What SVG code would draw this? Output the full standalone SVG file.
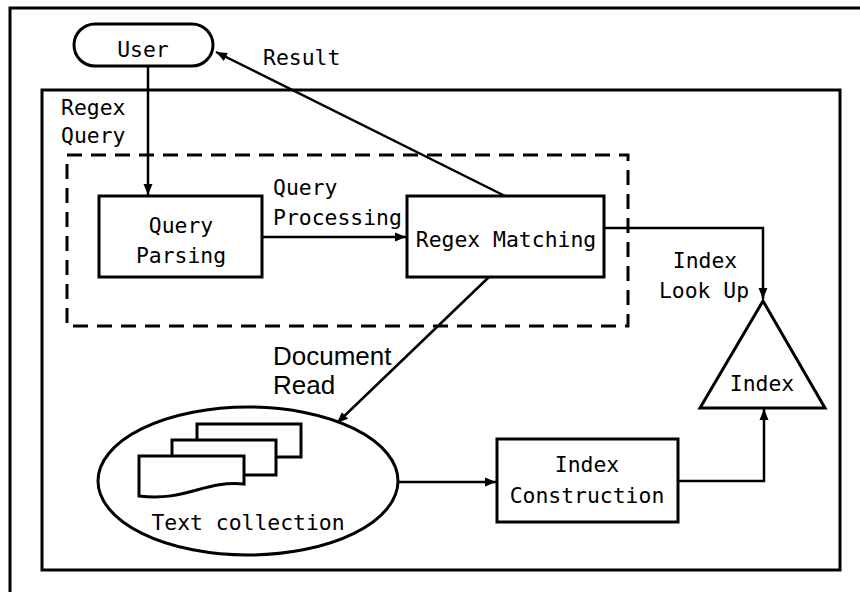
<svg xmlns="http://www.w3.org/2000/svg" width="860" height="592" viewBox="0 0 860 592">
<defs>
<marker id="ah" markerUnits="userSpaceOnUse" markerWidth="12" markerHeight="10" refX="11" refY="5" orient="auto">
<path d="M0,0.5 L11,5 L0,9.5 Z" fill="#000"/>
</marker>
<style>
.box{fill:#fff;stroke:#000;stroke-width:3}
.frame{fill:none;stroke:#000;stroke-width:3}
.dash{fill:none;stroke:#000;stroke-width:3;stroke-dasharray:15 9}
.con{fill:none;stroke:#000;stroke-width:2.5}
.arr{marker-end:url(#ah)}
.t{font-family:"DejaVu Sans Mono","Liberation Mono",monospace;font-size:21.4px;fill:#000}
.m{text-anchor:middle}
.s{font-family:"Liberation Sans",Arial,sans-serif;font-size:26px;fill:#000}
</style>
</defs>
<rect width="860" height="592" fill="#fff"/>
<rect class="frame" x="10" y="8" width="900" height="700"/>
<g id="system">
<rect class="frame" x="42" y="90" width="798" height="480"/>
<text class="t" x="61" y="115">Regex</text>
<text class="t" x="61" y="143">Query</text>
</g>
<g id="query-processing">
<rect class="dash" x="67" y="155" width="561" height="171"/>
</g>
<g id="connectors">
<line class="con arr" x1="148" y1="66" x2="148" y2="195"/>
<line class="con arr" x1="505" y1="196" x2="216" y2="52"/>
<line class="con arr" x1="262" y1="237" x2="406" y2="237"/>
<polyline class="con arr" points="604,228 763,228 763,299"/>
<line class="con arr" x1="489" y1="277" x2="337" y2="423"/>
<line class="con arr" x1="398" y1="482" x2="496" y2="482"/>
<polyline class="con arr" points="678,481 764,481 764,409"/>
<text class="t" x="263" y="65">Result</text>
<text class="t" x="273" y="195">Query</text>
<text class="t" x="273" y="225">Processing</text>
<text class="t m" x="705" y="268">Index</text>
<text class="t m" x="704" y="298">Look Up</text>
<text class="s" x="273" y="365">Document</text>
<text class="s" x="273" y="394">Read</text>
</g>
<g id="user">
<rect class="box" x="74" y="24" width="139" height="42" rx="21" ry="21"/>
<text class="t m" x="143" y="57">User</text>
</g>
<g id="query-parsing">
<rect class="box" x="99" y="196" width="163" height="81"/>
<text class="t m" x="181" y="233">Query</text>
<text class="t m" x="181" y="263">Parsing</text>
</g>
<g id="regex-matching">
<rect class="box" x="407" y="196" width="197" height="81"/>
<text class="t m" x="506" y="247">Regex Matching</text>
</g>
<g id="index">
<polygon class="box" points="763,301 700,408 825,408"/>
<text class="t m" x="762" y="391">Index</text>
</g>
<g id="index-construction">
<rect class="box" x="497" y="439" width="181" height="83"/>
<text class="t m" x="587" y="472">Index</text>
<text class="t m" x="587" y="503">Construction</text>
</g>
<g id="text-collection">
<ellipse class="box" cx="248" cy="481" rx="150" ry="74"/>
<rect class="box" x="197" y="424" width="104" height="33"/>
<rect class="box" x="172" y="440" width="104" height="35"/>
<path class="box" d="M139,456 H244 V484 C205,480 185,502 139,496 Z"/>
<text class="t m" x="248" y="530">Text collection</text>
</g>
</svg>
